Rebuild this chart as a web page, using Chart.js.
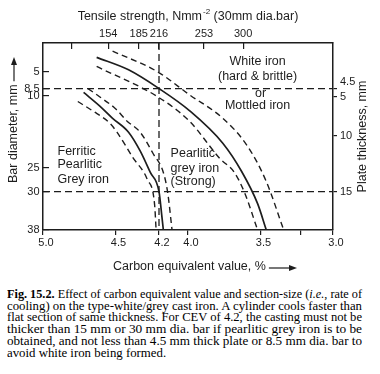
<!DOCTYPE html>
<html>
<head>
<meta charset="utf-8">
<title>Fig. 15.2</title>
<script src="https://cdn.jsdelivr.net/npm/chart.js@4.4.1/dist/chart.umd.min.js"></script>
<style>
  html, body { margin: 0; padding: 0; background: #fff; }
  #fig { position: relative; width: 380px; height: 374px; overflow: hidden; }
  #chart { position: absolute; left: 0; top: 0; }
  #caption { position: absolute; left: 7px; top: 289px; width: 355px;
    font-family: "Liberation Serif", "Times New Roman", serif; font-size: 12.5px;
    line-height: 11.7px; color: #000; }
  #caption .ln { display: block; width: max-content; white-space: nowrap; transform-origin: 0 0; }
</style>
</head>
<body>
<div id="fig">
  <canvas id="chart" width="380" height="282"></canvas>
  <div id="caption">
    <span class="ln j"><b>Fig. 15.2.</b> Effect of carbon equivalent value and section-size (<i>i.e.</i>, rate of</span>
    <span class="ln j">cooling) on the type-white/grey cast iron. A cylinder cools faster than</span>
    <span class="ln j">flat section of same thickness. For CEV of 4.2, the casting must not be</span>
    <span class="ln j">thicker than 15 mm or 30 mm dia. bar if pearlitic grey iron is to be</span>
    <span class="ln j">obtained, and not less than 4.5 mm thick plate or 8.5 mm dia. bar to</span>
    <span class="ln">avoid white iron being formed.</span>
  </div>
</div>
<script>
(function () {
  "use strict";

  var INK = "#1d1d1d";
  var SANS = "'Liberation Sans', Arial, Helvetica, sans-serif";

  /* ---- axes -------------------------------------------------------------- */
  // carbon equivalent value, % (bottom, falls to the right)
  var CEV_TICKS  = [5.0, 4.5, 4.2, 4.0, 3.5, 3.22, 3.0];
  var CEV_LABELS = ["5.0", "4.5", "4.2", "4.0", "3.5", "", "3.0"];
  // tensile strength, N/mm2 of a 30 mm bar (top), set at the matching CEV
  var TENSILE_AT     = [4.8, 4.55, 4.34, 4.2, 3.89, 3.62];
  var TENSILE_LABELS = ["", "154", "185", "216", "253", "300"];
  // bar diameter, mm (left)
  var BAR_MIN = -1, BAR_MAX = 38;
  var BAR_TICKS = [5, 8.5, 10, 25, 30, 38];
  // plate thickness, mm (right), set at the equivalent bar diameter
  var PLATE_AT     = [8.5, 10.2, 18.4, 30];
  var PLATE_LABELS = ["4.5", "5", "10", "15"];

  /* ---- boundary curves, [CEV %, bar diameter mm] -------------------------- */
  // ferritic-pearlitic grey / pearlitic grey boundary and its scatter band
  var FP_LINE  = [[4.72, 9.3], [4.61, 12.1], [4.52, 14.7], [4.41, 17.6], [4.33, 21.5], [4.26, 26.0], [4.2, 30.0], [4.18, 35.2], [4.17, 38]];
  var FP_UPPER = [[4.69, 8.5], [4.61, 10.2], [4.50, 12.7], [4.42, 15.3], [4.33, 17.6], [4.24, 22.1], [4.17, 26.0], [4.14, 30.2], [4.11, 38]];
  var FP_LOWER = [[4.76, 11.2], [4.66, 13.1], [4.54, 15.7], [4.49, 17.6], [4.38, 22.9], [4.28, 27.5], [4.23, 32.8], [4.22, 38]];
  // pearlitic grey / white (mottled) boundary and its scatter band
  var PW_LINE  = [[4.63, 2.0], [4.41, 4.6], [4.2, 8.5], [3.99, 13.1], [3.76, 19.9], [3.63, 25.8], [3.52, 32.5], [3.46, 38]];
  var PW_UPPER = [[4.52, 0.7], [4.21, 5.0], [3.99, 9.8], [3.76, 14.7], [3.59, 20.5], [3.46, 27.9], [3.34, 38]];
  var PW_LOWER = [[4.63, 3.9], [4.21, 10.2], [3.99, 15.3], [3.78, 23.1], [3.68, 26.0], [3.61, 30.2], [3.52, 38]];

  // limits quoted for CEV 4.2
  var LIMIT_BARS = [8.5, 30];
  var LIMIT_CEV = 4.2;

  var NOTES = [
    { text: "White iron",       cev: 3.52, bar: 2.8,  align: "center" },
    { text: "(hard & brittle)", cev: 3.52, bar: 6.0,  align: "center" },
    { text: "or",               cev: 3.50, bar: 9.5,  align: "center" },
    { text: "Mottled iron",     cev: 3.52, bar: 12.1, align: "center" },
    { text: "Ferritic",         cev: 4.90, bar: 21.6, align: "left" },
    { text: "Pearlitic",        cev: 4.90, bar: 24.4, align: "left" },
    { text: "Grey iron",        cev: 4.90, bar: 27.5, align: "left" },
    { text: "Pearlitic",        cev: 4.12, bar: 22.1, align: "left" },
    { text: "grey iron",        cev: 4.12, bar: 25.1, align: "left" },
    { text: "(Strong)",         cev: 4.12, bar: 27.9, align: "left" }
  ];

  // plot frame inside the 380 x 282 canvas
  var FRAME = { left: 43, top: 43, right: 47, bottom: 52 };

  function pts(list) { return list.map(function (p) { return { x: p[0], y: p[1] }; }); }

  function curve(list, dashed) {
    return {
      data: pts(list), borderColor: INK, borderWidth: dashed ? 1.4 : 1.7,
      borderDash: dashed ? [6, 4] : [], pointRadius: 0,
      cubicInterpolationMode: "monotone", fill: false
    };
  }

  function guide(data) {
    return { data: data, borderColor: INK, borderWidth: 1.3, borderDash: [7, 4], pointRadius: 0, tension: 0, fill: false };
  }

  var datasets = [
    curve(FP_LINE, false), curve(FP_UPPER, true), curve(FP_LOWER, true),
    curve(PW_LINE, false), curve(PW_UPPER, true), curve(PW_LOWER, true)
  ];
  LIMIT_BARS.forEach(function (b) {
    datasets.push(guide([{ x: CEV_TICKS[0], y: b }, { x: CEV_TICKS[CEV_TICKS.length - 1], y: b }]));
  });
  datasets.push(guide([{ x: LIMIT_CEV, y: BAR_MIN }, { x: LIMIT_CEV, y: BAR_MAX }]));

  function setTicks(values) {
    return function (s) { s.ticks = values.map(function (v) { return { value: v }; }); };
  }

  function arrow(ctx, from, to) {   // along +x of the current transform
    ctx.beginPath(); ctx.moveTo(from, 0); ctx.lineTo(to - 5, 0); ctx.stroke();
    ctx.beginPath(); ctx.moveTo(to, 0); ctx.lineTo(to - 8, -3); ctx.lineTo(to - 8, 3); ctx.closePath(); ctx.fill();
  }

  var annotate = {
    id: "annotate",
    afterDraw: function (chart) {
      var ctx = chart.ctx, a = chart.chartArea, sx = chart.scales.x, sy = chart.scales.y;
      ctx.save();
      ctx.fillStyle = INK; ctx.strokeStyle = INK; ctx.lineWidth = 1.2;
      ctx.textBaseline = "middle";
      ctx.font = "12.5px " + SANS;
      NOTES.forEach(function (n) {
        ctx.textAlign = n.align;
        ctx.fillText(n.text, sx.getPixelForValue(n.cev), sy.getPixelForValue(n.bar));
      });

      // top title with superscript
      var t1 = "Tensile strength, Nmm", sup = "-2", t2 = " (30mm dia.bar)";
      ctx.font = "12.5px " + SANS;
      var w1 = ctx.measureText(t1).width, w2 = ctx.measureText(t2).width;
      ctx.font = "8px " + SANS;
      var ws = ctx.measureText(sup).width + 1;
      var x0 = (a.left + a.right) / 2 - (w1 + ws + w2) / 2, ty = a.top - 26;
      ctx.textAlign = "left";
      ctx.font = "12.5px " + SANS;
      ctx.fillText(t1, x0, ty);
      ctx.fillText(t2, x0 + w1 + ws, ty);
      ctx.font = "8px " + SANS;
      ctx.fillText(sup, x0 + w1 + 1, ty - 5);

      // bottom title with arrow
      ctx.font = "12.5px " + SANS;
      var bt = "Carbon equivalent value, %", bx = a.left + 70, by = a.bottom + 37;
      var bw = ctx.measureText(bt).width;
      ctx.fillText(bt, bx, by);
      ctx.save(); ctx.translate(0, by + 1); arrow(ctx, bx + bw + 3, a.left + 254); ctx.restore();

      // left title with arrow
      ctx.save();
      ctx.translate(a.left - 29, a.bottom - 47);
      ctx.rotate(-Math.PI / 2);
      var lt = "Bar diameter, mm", lw = ctx.measureText(lt).width;
      ctx.fillText(lt, 0, 0);
      arrow(ctx, lw + 3, (a.bottom - 47) - (a.top + 14));
      ctx.restore();

      // right title
      ctx.save();
      ctx.translate(a.right + 30, (a.top + a.bottom) / 2);
      ctx.rotate(-Math.PI / 2);
      ctx.textAlign = "center";
      ctx.fillText("Plate thickness, mm", 0, 0);
      ctx.restore();

      ctx.restore();
    }
  };

  var tickFont = { family: SANS, size: 11 };
  var border = { display: true, color: INK, width: 1.5 };

  new Chart(document.getElementById("chart"), {
    type: "line",
    data: { datasets: datasets },
    options: {
      responsive: false, animation: false,
      layout: { padding: 0 },
      plugins: { legend: { display: false }, tooltip: { enabled: false } },
      scales: {
        x: {
          type: "linear", position: "bottom", min: 3, max: 5, reverse: true,
          afterBuildTicks: setTicks(CEV_TICKS),
          afterFit: function (s) { s.height = FRAME.bottom; },
          grid: { drawOnChartArea: false, drawTicks: true, tickLength: 5, color: INK, lineWidth: 1.2 },
          border: border,
          ticks: { autoSkip: false, maxRotation: 0, padding: 1, labelOffset: 3, color: INK, font: tickFont,
                   callback: function (v, i) { return CEV_LABELS[i]; } }
        },
        x2: {
          type: "linear", position: "top", min: 3, max: 5, reverse: true,
          afterBuildTicks: setTicks(TENSILE_AT),
          afterFit: function (s) { s.height = FRAME.top; },
          grid: { drawOnChartArea: false, drawTicks: true, tickLength: -6, color: INK, lineWidth: 1.2 },
          border: border,
          ticks: { autoSkip: false, maxRotation: 0, padding: 8, color: INK, font: tickFont,
                   callback: function (v, i) { return TENSILE_LABELS[i]; } }
        },
        y: {
          type: "linear", position: "left", min: BAR_MIN, max: BAR_MAX, reverse: true,
          afterBuildTicks: setTicks(BAR_TICKS),
          afterFit: function (s) { s.width = FRAME.left; },
          grid: { drawOnChartArea: false, drawTicks: true, tickLength: -6, color: INK, lineWidth: 1.2 },
          border: border,
          ticks: { autoSkip: false, padding: 9.5, color: INK, font: tickFont,
                   callback: function (v) { return String(v); } }
        },
        y2: {
          type: "linear", position: "right", min: BAR_MIN, max: BAR_MAX, reverse: true,
          afterBuildTicks: setTicks(PLATE_AT),
          afterFit: function (s) { s.width = FRAME.right; },
          grid: { drawOnChartArea: false, drawTicks: true, tickLength: 4, color: INK, lineWidth: 1.2 },
          border: border,
          ticks: { autoSkip: false, padding: 3, color: INK, font: tickFont,
                   callback: function (v, i) { return i === 0 ? [PLATE_LABELS[i], ""] : PLATE_LABELS[i]; } }
        }
      }
    },
    plugins: [annotate]
  });

  /* caption: stretch each full line to the column width, like the printed page */
  var box = document.getElementById("caption");
  var full = box.clientWidth, lines = box.querySelectorAll(".ln"), sum = 0, n = 0;
  Array.prototype.forEach.call(lines, function (el) {
    if (!el.classList.contains("j")) return;
    var k = full / el.getBoundingClientRect().width;
    el.style.transform = "scaleX(" + k + ")";
    sum += k; n++;
  });
  Array.prototype.forEach.call(lines, function (el) {
    if (!el.classList.contains("j")) el.style.transform = "scaleX(" + (sum / n) + ")";
  });
})();
</script>
</body>
</html>
